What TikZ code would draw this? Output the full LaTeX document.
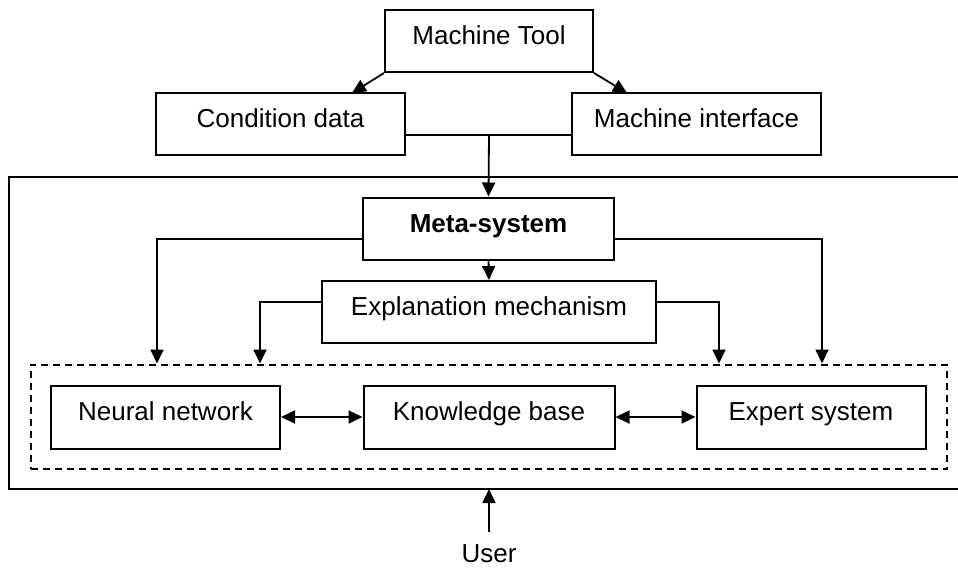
\documentclass[tikz,border=0pt]{standalone}
\usepackage{fontspec}
\setmainfont{Liberation Sans}
\usetikzlibrary{arrows.meta}
\begin{document}
\begin{tikzpicture}[x=1pt,y=-1pt,
  txt/.style={font=\fontsize{26}{30}\selectfont},
  box/.style={draw, line width=2pt, minimum width=#1, minimum height=62pt,
    inner sep=0pt, text height=19pt, text depth=12pt, txt},
  conn/.style={line width=1.8pt},
  arr/.style={conn, -{Triangle[length=14pt,width=13pt]}},
  darr/.style={conn, {Triangle[length=14pt,width=13pt]}-{Triangle[length=14pt,width=13pt]}},
  dbox/.style={draw, line width=2pt, dash pattern=on 7pt off 5pt, inner sep=0pt},
  frame/.style={line width=2.4pt}]
\useasboundingbox (0,0) rectangle (958,568);

% outer frame
\draw[frame] (964,177) -- (9,177) -- (9,489) -- (964,489);

% boxes
\node[box=208pt] (mt) at (489,41) {Machine Tool};
\node[box=249pt] (cd) at (280.5,124) {Condition data};
\node[box=249pt] (mi) at (696.5,124) {Machine interface};
\node[box=251pt, font=\fontsize{26}{30}\selectfont\bfseries] (meta) at (488.5,228.5) {Meta-system};
\node[box=334pt] (expl) at (489,312) {Explanation mechanism};
\node[dbox, minimum width=916.5pt, minimum height=104.5pt] (core) at (488.75,416.75) {};
\node[box=229pt, minimum height=63pt] (nn) at (165.5,417) {Neural network};
\node[box=251pt, minimum height=63pt] (kb) at (489,417) {Knowledge base};
\node[box=229pt, minimum height=63pt] (es) at (811,417) {Expert system};
\node[txt, inner sep=0pt] (user) at (489,553.5) {User};

% Machine tool to condition data / machine interface
\coordinate (cdt) at (352,93);
\coordinate (mit) at (627,93);
\draw[arr] (mt.south west) -- (cdt);
\draw[arr] (mt.south east) -- (mit);

% junction to meta-system
\coordinate (j) at (489,135);
\draw[conn] (cd.east |- j) -- (mi.west |- j);
\draw[arr] (j) -- (meta.north);

% meta-system branches
\coordinate (ml) at (157,239);
\coordinate (mr) at (822,239);
\draw[arr] (meta.west |- ml) -- (ml) -- (ml |- core.north);
\draw[arr] (meta.east |- mr) -- (mr) -- (mr |- core.north);
\draw[arr] (meta.south) -- (expl.north);

% explanation branches
\coordinate (el) at (260,302);
\coordinate (er) at (719,302);
\draw[arr] (expl.west |- el) -- (el) -- (el |- core.north);
\draw[arr] (expl.east |- er) -- (er) -- (er |- core.north);

% inner double arrows
\draw[darr] (nn.east) -- (kb.west);
\draw[darr] (kb.east) -- (es.west);

% user
\coordinate (ob) at (489,489);
\coordinate (ut) at (489,532);
\draw[arr] (ut) -- (ob);
\end{tikzpicture}
\end{document}
